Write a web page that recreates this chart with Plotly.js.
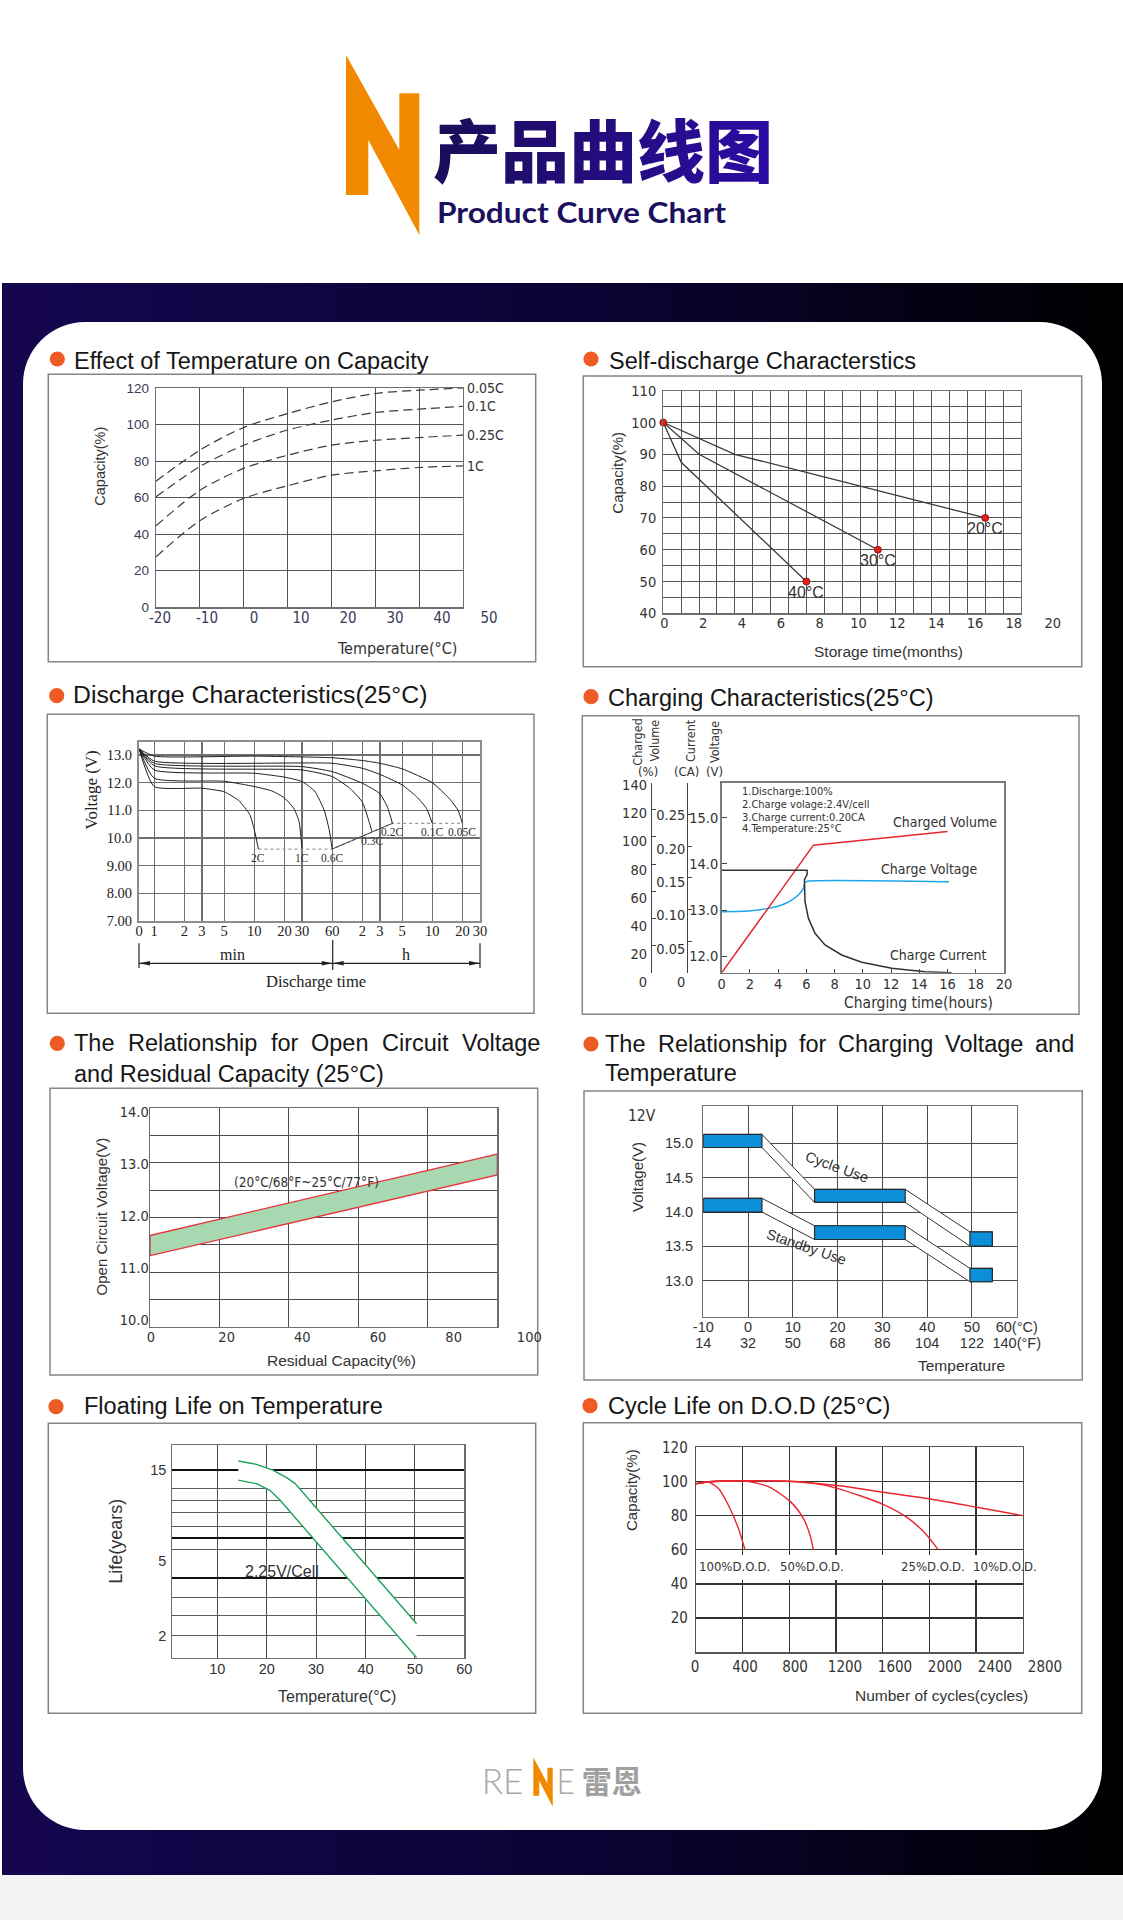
<!DOCTYPE html>
<html><head><meta charset="utf-8"><title>Product Curve Chart</title>
<script src="https://cdn.plot.ly/plotly-3.0.1.min.js"></script>
<style>
html,body{margin:0;padding:0;background:#fff}
#page{position:relative;width:1123px;height:1920px;overflow:hidden;background:#fff}
.abs{position:absolute}
</style></head><body>
<div id="page">
<div class="abs" style="left:2px;top:283px;width:1121px;height:1592px;background:linear-gradient(90deg,#15064f 0%,#0a0332 55%,#000 100%)"></div>
<div class="abs" style="left:0;top:1875px;width:1123px;height:45px;background:#f4f4f4"></div>
<div class="abs" style="left:23px;top:322px;width:1079px;height:1508px;border-radius:62px;background:#fff"></div>
<svg class="abs" style="left:0;top:0" width="1123" height="1920" xmlns="http://www.w3.org/2000/svg">
 <defs>
  <linearGradient id="cn" x1="0" y1="0" x2="1" y2="0"><stop offset="0" stop-color="#1b0d58"/><stop offset="1" stop-color="#2c0ca4"/></linearGradient>
  <polygon id="nshape" points="346,55 399.3,150 399.3,93.3 419.3,93.3 419.3,235 368.3,140 368.3,195 346,195" fill="#f18a00"/>
 </defs>
 <use href="#nshape"/>
 <text x="433" y="177" font-family="'Noto Sans CJK SC'" font-weight="900" font-size="68" fill="url(#cn)" textLength="340" lengthAdjust="spacingAndGlyphs">产品曲线图</text>
 <text x="437" y="223" font-family="Lato" font-weight="700" font-size="28" fill="#1c1160" textLength="289" lengthAdjust="spacingAndGlyphs">Product Curve Chart</text>
 <text x="481.7" y="1794" font-family="Lato" font-weight="300" font-size="35" fill="#a8a8a8" textLength="41.6" lengthAdjust="spacingAndGlyphs">RE</text>
 <use href="#nshape" transform="translate(533.3,1757.3) scale(0.265,0.2745) translate(-346,-55)"/>
 <text x="556.5" y="1794" font-family="Lato" font-weight="300" font-size="35" fill="#a8a8a8" textLength="18.5" lengthAdjust="spacingAndGlyphs">E</text>
 <text x="581.7" y="1793" font-family="'Noto Sans CJK SC'" font-weight="700" font-size="31" fill="#a0a0a0" textLength="60" lengthAdjust="spacingAndGlyphs">雷恩</text>
</svg>
<div id="c1" class="abs"></div><div id="c2" class="abs"></div>
<div id="c3" class="abs"></div><div id="c4" class="abs"></div>
<div id="c5" class="abs"></div><div id="c6" class="abs"></div>
<div id="c7" class="abs"></div><div id="c8" class="abs"></div>
</div>
<script>
// ================= DATA =================
// 1. Effect of Temperature on Capacity
const TEMP1=[-20,-10,0,10,20,30,40,50];
const CAP_005C=[69,86,98.4,106,112.4,117,118.8,120];
const CAP_01C=[60.5,77,88.7,97,102.4,106.6,108.4,110];
const CAP_025C=[44.6,64,76,83.2,88.7,91.4,92.9,94.2];
const CAP_1C=[27.7,47.4,59.6,66.5,72.3,74.7,76.5,77.4];
const RATES1=['0.05C','0.1C','0.25C','1C'];
const TEMP1_TICKS=[-20,-10,0,10,20,30,40,50];
const CAP1_TICKS=[0,20,40,60,80,100,120];
// 2. Self-discharge
const MONTH_GRID=[0,1,2,3,4,5,6,7,8,9,10,11,12,13,14,15,16,17,18,19,20];
const MONTH_TICKS=[0,2,4,6,8,10,12,14,16,18,20];
const CAP2_GRID=[40,45,50,55,60,65,70,75,80,85,90,95,100,105,110];
const SD20_T=[0,4,18], SD20=[100,90,70];
const SD30_T=[0,2,12], SD30=[100,90,60];
const SD40_T=[0,1,8], SD40=[100,87.5,50];
const SD_LABELS=['20°C','30°C','40°C'];
// 3. Discharge characteristics (time in minutes, log axis; 0.705 = axis origin "0")
const DIS_TICKS=[0.705,1,2,3,5,10,20,30,60,120,180,300,600,1200,1800];
const DIS_TICK_TEXT=['0','1','2','3','5','10','20','30','60','2','3','5','10','20','30'];
const DV_TICKS=[7,8,9,10,11,12,13];
const DV_TEXT=['7.00','8.00','9.00','10.0','11.0','12.0','13.0'];
const D005_T=[0.705,1,10,60,120,180,300,600,901,1091,1200], D005_V=[13.22,12.96,12.96,12.9,12.8,12.7,12.5,12.0,11.4,10.99,10.53];
const D01_T=[0.705,1,60,120,180,300,419,526,600], D01_V=[13.22,12.78,12.70,12.52,12.30,11.92,11.49,11.07,10.53];
const D02_T=[0.705,1,30,60,120,180,215,240], D02_V=[13.22,12.70,12.58,12.40,11.98,11.6,11.1,10.53];
const D03_T=[0.705,1,30,60,90,120,140,150], D03_V=[13.22,12.61,12.46,12.22,11.8,11.3,10.6,10.23];
const D06_T=[0.705,1,10,20,30,40,50,56,60], D06_V=[13.22,12.46,12.34,12.2,12.04,11.7,11.0,10.3,9.6];
const D1_T=[0.705,1,5,10,15,20,25,28,30], D1_V=[13.22,12.16,12.05,11.86,11.7,11.45,11.05,10.6,9.62];
const D2_T=[0.705,1,3,5,7,9,10,11], D2_V=[13.22,11.86,11.8,11.67,11.35,10.85,10.3,9.6];
const END_T=[11,60,240,1200], END_V=[9.6,9.6,10.53,10.53];
const RATES3=['0.05C','0.1C','0.2C','0.3C','0.6C','1C','2C'];
// 4. Charging characteristics
const CH_T_TICKS=[0,2,4,6,8,10,12,14,16,18,20];
const CV_T=[0,6.5,16], CV_PCT=[0,94,104];
const VT=[0,1.89,3.31,4.25,4.96,5.43,5.79,5.90,6.14,16.1];
const VV=[12.963,12.978,13.035,13.108,13.216,13.325,13.469,13.599,13.628,13.614];
const CT=[0,6.05,6.05,5.86,5.90,6.14,6.61,7.32,8.50,9.92,12.04,14.40,16.3];
const CA=[0.1616,0.1616,0.155,0.1468,0.1125,0.0861,0.0623,0.0438,0.028,0.0164,0.0069,0.0016,0];
const PCT_TICKS=[0,20,40,60,80,100,120,140];
const CA_TICKS=[0,0.05,0.10,0.15,0.20,0.25,0.30];
const CA_LABEL_TICKS=[0,0.05,0.10,0.15,0.20,0.25];
const CA_TEXT=['0','0.05','0.10','0.15','0.20','0.25'];
const V4_TICKS=[12,13,14,15], V4_TEXT=['12.0','13.0','14.0','15.0'];
const NOTES4=['1.Discharge:100%','2.Charge volage:2.4V/cell','3.Charge current:0.20CA','4.Temperature:25°C'];
// 5. Open circuit voltage vs residual capacity
const RC=[0,100], OCV_UP=[11.67,13.16], OCV_LO=[11.3,12.78];
const RC_GRID=[0,20,40,60,80,100];
const OCV_GRID=[10,10.5,11,11.5,12,12.5,13,13.5,14];
const OCV_TICKS=[10,11,12,13,14], OCV_TEXT=['10.0','11.0','12.0','13.0','14.0'];
// 6. Charging voltage vs temperature
const TEMPC=[-10,0,10,20,30,40,50,60];
const TEMPC_TEXT=['-10','0','10','20','30','40','50','60(°C)'];
const TEMPF_TEXT=['14','32','50','68','86','104','122','140(°F)'];
const V6_TICKS=[13,13.5,14,14.5,15], V6_TEXT=['13.0','13.5','14.0','14.5','15.0'];
const SEG_T0=[-10,14.85,49.55], SEG_T1=[3.1,35.1,54.55];
const CYC_LO=[14.94,14.14,13.505], CYC_HI=[15.13,14.33,13.71];
const STB_LO=[14.0,13.60,12.985], STB_HI=[14.2,13.80,13.18];
// 7. Floating life on temperature
const FL_T_TICKS=[10,20,30,40,50,60];
const LIFE_GRID=[2,2.55,3.2,4.05,5.75,6.6,7.55,8.95,10.35,11.95,15];
const LIFE_MAJOR=[4.05,6.6,15];
const LIFE_TICKS=[2,5,15];
const FL_UP_T=[14.25,17.96,21.33,24.03,25.72,50.35], FL_UP=[16.8,16.13,14.99,13.71,12.79,2.315];
const FL_LO_T=[14.25,17.96,20.66,22.68,50.35], FL_LO=[13.32,12.74,11.75,10.44,1.53];
// 8. Cycle life on DOD
const CYC_TICKS=[0,400,800,1200,1600,2000,2400,2800];
const CAP8_TICKS=[0,20,40,60,80,100,120], CAP8_TEXT=['','20','40','60','80','100','120'];
const DOD100_N=[0,106,191,277,363,420], DOD100=[98.7,99.6,96,86.2,72.6,60];
const DOD50_N=[0,106,250,420,620,809,920,977,1006], DOD50=[98.7,99.8,100.4,100.3,97,88.2,78.4,68.7,60];
const DOD25_N=[0,106,400,800,1000,1211,1603,1820,1963,2077], DOD25=[98.7,99.8,100.4,100.2,99,96,86.6,78.4,69.7,60];
const DOD10_N=[0,106,400,809,1211,1603,2020,2409,2800], DOD10=[98.7,99.8,100.4,100,97.6,93.7,89.6,84.9,80];
const DOD_LABELS=['100%D.O.D.','50%D.O.D.','25%D.O.D.','10%D.O.D.'];

// ================= HELPERS =================
const ARIAL="'Liberation Sans', Arial, Helvetica, sans-serif";
const NARROW="'Liberation Sans Narrow', 'Arial Narrow', 'DejaVu Sans Condensed', sans-serif";
const SERIF="'Liberation Serif', 'Times New Roman', serif";
const INK='#2e2e2e';
const f=(family,size,color)=>({family:family,size:size,color:color||INK});
const TITLE=f(ARIAL,23.5,'#161616');
const ctx=document.createElement('canvas').getContext('2d');
function tw(t,font){ctx.font=font.size+'px '+font.family;return ctx.measureText(t).width;}

function makePanel(id,X0,Y0,W,H){
  const el=document.getElementById(id);
  Object.assign(el.style,{left:X0+'px',top:Y0+'px',width:W+'px',height:H+'px'});
  const p={el:el,traces:[],layout:{width:W,height:H,margin:{l:0,r:0,t:0,b:0,pad:0},
    paper_bgcolor:'rgba(0,0,0,0)',plot_bgcolor:'rgba(0,0,0,0)',showlegend:false,shapes:[],annotations:[],
    font:{family:ARIAL,color:INK,size:13},
    xaxis9:{visible:false,domain:[0,1],range:[0,1],fixedrange:true},
    yaxis9:{visible:false,domain:[0,1],range:[0,1],fixedrange:true}}};
  p.fx=x=>(x-X0)/W; p.fy=y=>1-(y-Y0)/H;
  p.xd=(a,b)=>[p.fx(a),p.fx(b)]; p.yd=(t,b)=>[p.fy(b),p.fy(t)];
  p.text=(t,x,y,font,o)=>{p.layout.annotations.push(Object.assign({text:t,xref:'paper',yref:'paper',x:p.fx(x),y:p.fy(y),showarrow:false,xanchor:'center',yanchor:'middle',borderpad:0,font:font},o||{}));};
  p.frame=(l,t,r,b)=>p.layout.shapes.push({type:'rect',xref:'paper',yref:'paper',x0:p.fx(l),x1:p.fx(r),y0:p.fy(b),y1:p.fy(t),line:{color:'#858585',width:1.5},fillcolor:'rgba(0,0,0,0)',layer:'below'});
  p.bullet=(cx,cy)=>p.layout.shapes.push({type:'circle',xref:'paper',yref:'paper',x0:p.fx(cx-7.6),x1:p.fx(cx+7.6),y0:p.fy(cy+7.6),y1:p.fy(cy-7.6),fillcolor:'#ef5b25',line:{width:0}});
  p.empty=(xa,ya,xv,yv)=>p.traces.push({type:'scatter',mode:'markers',x:[xv],y:[yv],xaxis:xa,yaxis:ya,marker:{opacity:0,size:1},hoverinfo:'skip'});
  p.justify=(line,x0,x1,yc,font)=>{const w=line.split(' '),ws=w.map(s=>tw(s,font)),tot=ws.reduce((a,b)=>a+b,0),gap=(x1-x0-tot)/(w.length-1);let x=x0;w.forEach((s,i)=>{p.text(s,x,yc,font,{xanchor:'left'});x+=ws[i]+gap;});};
  p.draw=()=>Plotly.newPlot(el,p.traces,p.layout,{staticPlot:true,displayModeBar:false});
  return p;
}
function gridAxis(o){return Object.assign({type:'linear',tickmode:'array',showgrid:true,gridcolor:'#555',gridwidth:1,zeroline:false,showline:true,mirror:true,linecolor:'#6e6e6e',linewidth:1.2,ticks:'',showticklabels:false,fixedrange:true},o);}
// label-only axes: place tick labels where the reference prints them
function xLab(p,v0,px0,v1,px1,vals,text,yc,font){
  const s=(px1-px0)/(v1-v0),pad=6;
  return {domain:p.xd(px0-pad,px1+pad),range:[v0-pad/s,v1+pad/s],tickmode:'array',tickvals:vals,ticktext:text,
    showgrid:false,zeroline:false,showline:false,ticks:'',tickfont:font,anchor:'free',position:p.fy(yc-0.35*font.size-5.3),fixedrange:true};
}
function yLab(p,v0,py0,v1,py1,vals,text,xr,font){
  const s=(py0-py1)/(v1-v0),pad=6;
  return {domain:p.yd(py1-pad,py0+pad),range:[v0-pad/s,v1+pad/s],tickmode:'array',tickvals:vals,ticktext:text,
    showgrid:false,zeroline:false,showline:false,ticks:'',tickfont:font,anchor:'free',side:'left',position:p.fx(xr+2),fixedrange:true};
}

// ================= 1 =================
(function(){
const p=makePanel('c1',40,340,505,330),L=p.layout;
p.frame(48.3,374.3,535.7,661.7); p.bullet(57.3,359);
p.text('Effect of Temperature on Capacity',73.3,360.5,TITLE,{xanchor:'left'});
L.xaxis=gridAxis({domain:p.xd(156,463),range:[-20,50],tickvals:TEMP1_TICKS,anchor:'y'});
L.yaxis=gridAxis({domain:p.yd(388,607.3),range:[0,120],tickvals:CAP1_TICKS,anchor:'x',showticklabels:true,tickfont:f(ARIAL,13.5,'#3a3a55'),ticklabelstandoff:3});
L.xaxis2=xLab(p,-20,160,50,489,TEMP1_TICKS,TEMP1_TICKS.map(String),618,f(NARROW,15,'#3a3a55'));
p.empty('x2','y9',0,0.5);
[CAP_005C,CAP_01C,CAP_025C,CAP_1C].forEach((s,i)=>{
  p.traces.push({type:'scatter',mode:'lines',x:TEMP1,y:s,xaxis:'x',yaxis:'y',line:{color:'#3a3a3a',width:1.2,dash:'9px,5px',shape:'spline',smoothing:0.8}});
  L.annotations.push({text:RATES1[i],xref:'paper',yref:'y',x:p.fx(466),y:s[s.length-1],xanchor:'left',yanchor:'middle',showarrow:false,borderpad:0,font:f(NARROW,14,'#333')});
});
p.text('Capacity(%)',100,466.7,f(ARIAL,14.5,'#333'),{textangle:-90});
p.text('Temperature(°C)',396.7,648.3,f(NARROW,16,'#333'));
p.draw();
})();

// ================= 2 =================
(function(){
const p=makePanel('c2',575,340,510,330),L=p.layout;
p.frame(583.3,376,1081.7,666.7); p.bullet(591,359);
p.text('Self-discharge Characterstics',608,360.5,TITLE,{xanchor:'left'});
L.xaxis=gridAxis({domain:p.xd(663.3,1021),range:[0,20],tickvals:MONTH_GRID,anchor:'y'});
L.yaxis=gridAxis({domain:p.yd(390.7,613.3),range:[40,110],tickvals:CAP2_GRID,ticktext:CAP2_GRID.map(v=>v%10===0?String(v):''),anchor:'x',showticklabels:true,tickfont:f(NARROW,14.5,'#333'),ticklabelstandoff:3});
L.xaxis2=xLab(p,0,664.3,20,1052.7,MONTH_TICKS,MONTH_TICKS.map(String),622.7,f(NARROW,14.5,'#333'));
p.empty('x2','y9',0,0.5);
const SD=[[SD20_T,SD20],[SD30_T,SD30],[SD40_T,SD40]];
const mx=[SD20_T[0]],my=[SD20[0]];
SD.forEach((d,i)=>{const t=d[0],c=d[1];
  p.traces.push({type:'scatter',mode:'lines',x:t,y:c,line:{color:'#3a3a3a',width:1.3}});
  mx.push(t[t.length-1]); my.push(c[c.length-1]);
  L.annotations.push({text:SD_LABELS[i],xref:'x',yref:'y',x:t[t.length-1],y:c[c.length-1],xanchor:'center',yanchor:'top',yshift:-1,showarrow:false,borderpad:0,font:f(ARIAL,16,'#333')});
});
p.traces.push({type:'scatter',mode:'markers',x:mx,y:my,cliponaxis:false,marker:{color:'#e3211c',size:7,line:{color:'#7a0a0a',width:0.8}}});
p.text('Capacity(%)',616.7,473,f(ARIAL,15,'#333'),{textangle:-90});
p.text('Storage time(months)',888.3,651,f(ARIAL,15.5,'#333'));
p.draw();
})();

// ================= 3 =================
(function(){
const p=makePanel('c3',40,675,505,345),L=p.layout;
p.frame(47.3,714.3,534,1013.3); p.bullet(56.7,695.7);
p.text('Discharge Characteristics(25°C)',71.7,694.5,f(ARIAL,24.8,'#161616'),{xanchor:'left'});
L.xaxis=gridAxis({type:'log',domain:p.xd(139,480),range:[Math.log10(DIS_TICKS[0]),Math.log10(DIS_TICKS[DIS_TICKS.length-1])],tickvals:DIS_TICKS,ticktext:DIS_TICK_TEXT,anchor:'y',showticklabels:true,tickfont:f(SERIF,14.5,'#222'),ticklabelstandoff:-4,gridcolor:'#6f6f6f',gridwidth:1.2,linecolor:'#8c8c8c',linewidth:2});
L.yaxis=gridAxis({domain:p.yd(741.7,921),range:[7,13.48],tickvals:DV_TICKS,ticktext:DV_TEXT,anchor:'x',showticklabels:true,tickfont:f(SERIF,14.5,'#222'),ticklabelstandoff:2,gridcolor:'#6f6f6f',gridwidth:1.2,linecolor:'#8c8c8c',linewidth:2});
p.traces.push({type:'scatter',mode:'lines',x:END_T,y:END_V,line:{color:'#9a9a9a',width:1.3,dash:'dot'}});
p.traces.push({type:'scatter',mode:'lines',x:END_T.slice(1,3),y:END_V.slice(1,3),line:{color:'#444',width:1}});
const curves=[[D005_T,D005_V],[D01_T,D01_V],[D02_T,D02_V],[D03_T,D03_V],[D06_T,D06_V],[D1_T,D1_V],[D2_T,D2_V]];
curves.forEach((d,i)=>{const t=d[0],v=d[1];
  p.traces.push({type:'scatter',mode:'lines',x:t,y:v,line:{color:'#1e1e1e',width:1,shape:'spline',smoothing:0.5}});
  L.annotations.push({text:RATES3[i],xref:'x',yref:'y',x:Math.log10(t[t.length-1]),y:v[v.length-1],yanchor:'top',yshift:-2,showarrow:false,borderpad:0,font:f(SERIF,11.5,'#333')});
});
// time-unit arrows below axis
const ay=963.3, S=L.shapes;
const ln=(x0,y0,x1,y1)=>S.push({type:'line',xref:'paper',yref:'paper',x0:p.fx(x0),y0:p.fy(y0),x1:p.fx(x1),y1:p.fy(y1),line:{color:'#222',width:1.2}});
ln(139,ay,480,ay); ln(139,943.3,139,968); ln(332.7,940,332.7,970); ln(480,943.3,480,968);
const head=(xt,dir)=>S.push({type:'path',xref:'paper',yref:'paper',path:'M'+p.fx(xt)+','+p.fy(ay)+' L'+p.fx(xt-dir*11)+','+p.fy(ay-2.3)+' L'+p.fx(xt-dir*11)+','+p.fy(ay+2.3)+' Z',fillcolor:'#222',line:{width:0}});
head(139,-1); head(332.7,1); head(332.7,-1); head(480,1);
p.text('min',232.7,954.3,f(SERIF,16,'#222'));
p.text('h',406,954.3,f(SERIF,16,'#222'));
p.text('Discharge time',316,981.7,f(SERIF,16.5,'#222'));
p.text('Voltage (V)',91.7,790,f(SERIF,17,'#222'),{textangle:-90});
p.draw();
})();

// ================= 4 =================
(function(){
const p=makePanel('c4',575,675,510,345),L=p.layout;
p.frame(582.3,715.7,1079,1014.3); p.bullet(591,696.7);
p.text('Charging Characteristics(25°C)',607.3,698,TITLE,{xanchor:'left'});
const TF=f(NARROW,14.5,'#333');
L.xaxis={domain:p.xd(721.7,1004),range:[0,20],tickmode:'array',tickvals:CH_T_TICKS,showgrid:false,zeroline:false,showline:true,mirror:true,linecolor:'#7a7a7a',linewidth:1.5,ticks:'inside',ticklen:4,tickcolor:'#444',tickfont:TF,ticklabelstandoff:-3,anchor:'y',fixedrange:true};
L.yaxis={domain:p.yd(782.7,972.7),range:[11.64,15.761],tickmode:'array',tickvals:V4_TICKS,ticktext:V4_TEXT,showgrid:false,zeroline:false,showline:true,mirror:true,linecolor:'#7a7a7a',linewidth:1.5,ticks:'inside',ticklen:5,tickcolor:'#444',tickfont:TF,ticklabelstandoff:-1,anchor:'x',fixedrange:true};
L.yaxis2={overlaying:'y',range:[0,140],tickmode:'array',tickvals:PCT_TICKS,showticklabels:false,showgrid:false,zeroline:false,showline:true,linecolor:'#444',linewidth:1.2,ticks:'inside',ticklen:4,tickcolor:'#444',anchor:'free',position:p.fx(651),side:'left',fixedrange:true};
L.yaxis4={overlaying:'y',range:[0,0.30],tickmode:'array',tickvals:CA_TICKS,showticklabels:false,showgrid:false,zeroline:false,showline:true,linecolor:'#444',linewidth:1.2,ticks:'inside',ticklen:4,tickcolor:'#444',anchor:'free',position:p.fx(686.7),side:'left',fixedrange:true};
L.yaxis3=yLab(p,0,982.3,140,785,PCT_TICKS,PCT_TICKS.map(String),645,TF);
L.yaxis5=yLab(p,0,982.3,0.25,815,CA_LABEL_TICKS,CA_TEXT,683.3,TF);
p.empty('x9','y3',0.5,0); p.empty('x9','y5',0.5,0);
p.traces.push({type:'scatter',mode:'lines',x:CV_T,y:CV_PCT,yaxis:'y2',line:{color:'#e8282e',width:1.5}});
p.traces.push({type:'scatter',mode:'lines',x:VT,y:VV,yaxis:'y',line:{color:'#1aa7e8',width:1.5,shape:'spline',smoothing:0.6}});
p.traces.push({type:'scatter',mode:'lines',x:CT,y:CA,yaxis:'y4',line:{color:'#333',width:1.5}});
const NF=f(NARROW,11,'#333');
[791.7,804.3,817.3,829].forEach((y,i)=>p.text(NOTES4[i],741,y,NF,{xanchor:'left'}));
const LF=f(NARROW,14,'#333');
p.text('Charged Volume',945,821.7,LF); p.text('Charge Voltage',929,869,LF); p.text('Charge Current',938.3,955,LF);
const HF=f(NARROW,12.5,'#333');
p.text('Charged',636.7,742,HF,{textangle:-90}); p.text('Volume',654,740.5,HF,{textangle:-90});
p.text('Current',690,741,HF,{textangle:-90}); p.text('Voltage',714.3,741.7,HF,{textangle:-90});
const UF=f(NARROW,13,'#333');
p.text('(%)',648.3,771.7,UF); p.text('(CA)',686,771.7,UF); p.text('(V)',714.3,771.7,UF);
p.text('Charging time(hours)',918.3,1003.3,f(NARROW,15.5,'#333'));
p.draw();
})();

// ================= 5 =================
(function(){
const p=makePanel('c5',40,1020,505,365),L=p.layout;
p.frame(50,1088.3,537.7,1375); p.bullet(57.3,1043.3);
p.justify('The Relationship for Open Circuit Voltage',73.3,539,1043.3,TITLE);
p.text('and Residual Capacity (25°C)',73.3,1074,TITLE,{xanchor:'left'});
L.xaxis=gridAxis({domain:p.xd(150,497.3),range:[0,100],tickvals:RC_GRID,anchor:'y',gridcolor:'#4d4d4d'});
L.yaxis=gridAxis({domain:p.yd(1108.3,1326.7),range:[10,14],tickvals:OCV_GRID,anchor:'x',gridcolor:'#4d4d4d'});
const TF=f(NARROW,14.5,'#333');
L.xaxis2=xLab(p,0,151,100,529.3,RC_GRID,RC_GRID.map(String),1337.3,TF);
L.yaxis2=yLab(p,10,1320,14,1111.7,OCV_TICKS,OCV_TEXT,146.7,TF);
p.empty('x2','y9',0,0.5); p.empty('x9','y2',0.5,10);
p.traces.push({type:'scatter',mode:'lines',x:[RC[0],RC[1],RC[1],RC[0],RC[0]],y:[OCV_LO[0],OCV_LO[1],OCV_UP[1],OCV_UP[0],OCV_LO[0]],fill:'toself',fillcolor:'#a7d8b1',line:{color:'#e8343a',width:1.3},xaxis:'x',yaxis:'y'});
p.text('(20°C/68°F~25°C/77°F)',233.3,1181.7,f(NARROW,13.5,'#333'),{xanchor:'left'});
p.text('Open Circuit Voltage(V)',101.7,1216.7,f(ARIAL,15,'#333'),{textangle:-90});
p.text('Residual Capacity(%)',341.7,1360,f(ARIAL,15.5,'#333'));
p.draw();
})();

// ================= 6 =================
(function(){
const p=makePanel('c6',575,1020,510,365),L=p.layout;
p.frame(584,1091,1082.3,1380); p.bullet(591,1044);
p.justify('The Relationship for Charging Voltage and',604.3,1073.3,1044,TITLE);
p.text('Temperature',604.3,1073.3,TITLE,{xanchor:'left'});
const TF=f(ARIAL,14.5,'#333');
L.xaxis=gridAxis({domain:p.xd(703.3,1016.7),range:[-10,60],tickvals:TEMPC,ticktext:TEMPC_TEXT,anchor:'y',showticklabels:true,tickfont:TF,ticklabelstandoff:-3,gridcolor:'#4a4a4a'});
L.xaxis2=xLab(p,-10,703.3,60,1016.7,TEMPC,TEMPF_TEXT,1343.3,TF);
L.yaxis=gridAxis({domain:p.yd(1106,1316.7),range:[12.476,15.544],tickvals:V6_TICKS,ticktext:V6_TEXT,anchor:'x',showticklabels:true,tickfont:TF,ticklabelstandoff:6,gridcolor:'#4a4a4a'});
p.empty('x2','y9',0,0.5);
function band(lo,hi){const xs=[],ys=[];for(let i=0;i<SEG_T0.length;i++){xs.push(SEG_T0[i],SEG_T1[i]);ys.push(hi[i],hi[i]);}
  for(let i=SEG_T0.length-1;i>=0;i--){xs.push(SEG_T1[i],SEG_T0[i]);ys.push(lo[i],lo[i]);} xs.push(xs[0]);ys.push(ys[0]);
  p.traces.push({type:'scatter',mode:'lines',x:xs,y:ys,fill:'toself',fillcolor:'#ffffff',line:{color:'#333',width:1}});}
function bars(lo,hi){for(let i=0;i<SEG_T0.length;i++){p.traces.push({type:'scatter',mode:'lines',x:[SEG_T0[i],SEG_T1[i],SEG_T1[i],SEG_T0[i],SEG_T0[i]],y:[lo[i],lo[i],hi[i],hi[i],lo[i]],fill:'toself',fillcolor:'#0b8fd9',line:{color:'#2a2a2a',width:1.2},cliponaxis:false});}}
band(CYC_LO,CYC_HI); band(STB_LO,STB_HI); bars(CYC_LO,CYC_HI); bars(STB_LO,STB_HI);
p.text('Cycle Use',836.7,1166.7,f(ARIAL,14.5,'#333'),{textangle:20});
p.text('Standby Use',806.7,1246.7,f(ARIAL,14.5,'#333'),{textangle:19});
p.text('12V',641.7,1115.7,f(NARROW,15.5,'#333'));
p.text('Voltage(V)',637.3,1176.7,f(ARIAL,15,'#333'),{textangle:-90});
p.text('Temperature',961.7,1365.7,f(ARIAL,15.5,'#333'));
p.draw();
})();

// ================= 7 =================
(function(){
const p=makePanel('c7',40,1385,505,335),L=p.layout;
p.frame(48.3,1423.3,535.7,1713.3); p.bullet(56,1406.7);
p.text('Floating Life on Temperature',82.7,1405.5,TITLE,{xanchor:'left'});
const TF=f(ARIAL,14.5,'#333');
const yr=[Math.log10(1.53),Math.log10(20.42)];
L.xaxis=gridAxis({domain:p.xd(172.3,464.3),range:[0.89,60],tickvals:FL_T_TICKS,anchor:'y',showticklabels:true,tickfont:TF,ticklabelstandoff:-2,gridcolor:'#4a4a4a'});
L.yaxis=gridAxis({type:'log',domain:p.yd(1445,1657.7),range:yr,tickvals:LIFE_GRID,anchor:'x',gridcolor:'#5a5a5a'});
L.yaxis2={type:'log',overlaying:'y',range:yr,tickmode:'array',tickvals:LIFE_MAJOR,showgrid:true,gridcolor:'#111',gridwidth:1.8,showline:false,zeroline:false,ticks:'',showticklabels:false,anchor:'x',side:'left',fixedrange:true};
L.yaxis3={type:'log',overlaying:'y',range:yr,tickmode:'array',tickvals:LIFE_TICKS,ticktext:LIFE_TICKS.map(String),showgrid:false,showline:false,zeroline:false,ticks:'',tickfont:TF,ticklabelstandoff:5,anchor:'x',side:'left',fixedrange:true};
p.traces.push({type:'scatter',mode:'lines',x:FL_LO_T,y:FL_LO,line:{color:'#1fa05a',width:1.4}});
p.traces.push({type:'scatter',mode:'lines',x:FL_UP_T,y:FL_UP,fill:'tonexty',fillcolor:'#ffffff',line:{color:'#1fa05a',width:1.4}});
p.empty('x','y2',10,5); p.empty('x','y3',10,5);
p.text('2.25V/Cell',244,1571,f(ARIAL,16,'#333'),{xanchor:'left'});
p.text('Life(years)',116,1541.7,f(ARIAL,18,'#333'),{textangle:-90});
p.text('Temperature(°C)',336.7,1696.7,f(ARIAL,16,'#333'));
p.draw();
})();

// ================= 8 =================
(function(){
const p=makePanel('c8',575,1385,510,335),L=p.layout;
p.frame(583.3,1422.7,1081.7,1713.3); p.bullet(590,1405.7);
p.text('Cycle Life on D.O.D (25°C)',606.7,1405.5,TITLE,{xanchor:'left'});
const TF=f(NARROW,15,'#333');
L.xaxis=gridAxis({domain:p.xd(696,1022.7),range:[0,2800],tickvals:CYC_TICKS,anchor:'y',gridcolor:'#333',gridwidth:1.3,linecolor:'#555'});
L.yaxis=gridAxis({domain:p.yd(1447.3,1652.3),range:[0,120],tickvals:CAP8_TICKS,ticktext:CAP8_TEXT,anchor:'x',showticklabels:true,tickfont:TF,ticklabelstandoff:4,gridcolor:'#333',gridwidth:1.3,linecolor:'#555'});
L.xaxis2=xLab(p,0,695,2800,1045,CYC_TICKS,CYC_TICKS.map(String),1666.7,TF);
p.empty('x2','y9',0,0.5);
L.shapes.push({type:'rect',xref:'x',yref:'y',x0:0,x1:2800,y0:42.3,y1:57,fillcolor:'#ffffff',line:{width:0},layer:'between'});
[[DOD100_N,DOD100],[DOD50_N,DOD50],[DOD25_N,DOD25],[DOD10_N,DOD10]].forEach(d=>{
  p.traces.push({type:'scatter',mode:'lines',x:d[0],y:d[1],line:{color:'#e8262d',width:1.4,shape:'spline',smoothing:0.7}});
});
const LF=f(NARROW,13,'#333');
[734.3,811.7,932.7,1005].forEach((x,i)=>p.text(DOD_LABELS[i],x,1566,LF));
p.text('Capacity(%)',631,1490,f(ARIAL,15,'#333'),{textangle:-90});
p.text('Number of cycles(cycles)',941.7,1695,f(ARIAL,15.5,'#333'));
p.draw();
})();
</script>
</body></html>
